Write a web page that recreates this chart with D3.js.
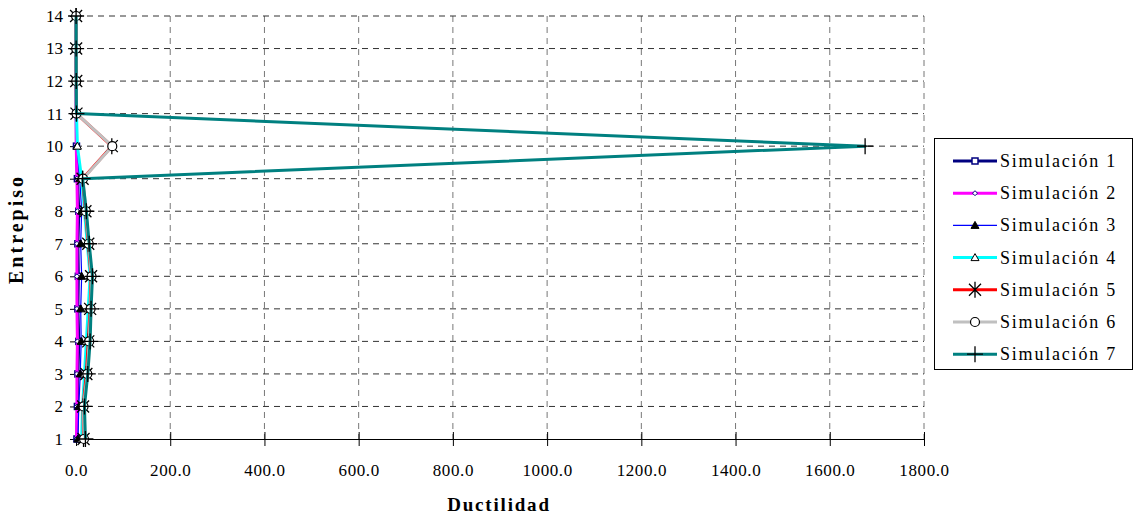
<!DOCTYPE html>
<html><head><meta charset="utf-8">
<script src="https://cdn.jsdelivr.net/npm/d3@7"></script>
<style>body{margin:0;background:#fff}svg{display:block}</style>
</head><body>
<svg id="c" width="1134" height="515"></svg>
<script>
const floors = [1,2,3,4,5,6,7,8,9,10,11,12,13,14];
const seriesNames = ["Simulación 1","Simulación 2","Simulación 3","Simulación 4","Simulación 5","Simulación 6","Simulación 7"];
const sim1 = [2,3,4,6,4,5,4,6,3,1,0.5,0.3,0.2,0.1];
const sim2 = [1,2,2,3,2,2,2,3,2,0.5,0.4,0.3,0.2,0.1];
const sim3 = [4,6,9,11,10,12,10,12,8,2,1,0.5,0.3,0.2];
const sim4 = [12,14,18,22,26,30,24,18,12,3,1,0.5,0.3,0.2];
const sim5 = [16,15,22,26,30,32,26,20,14,76,1,0.5,0.3,0.2];
const sim6 = [17,16,24,28,31,33,27,21,15,77,1,0.5,0.3,0.2];
const sim7 = [20,18,25,30,32,35,28,22,14,1675,1,0.5,0.3,0.2];
const xTicks = [0,200,400,600,800,1000,1200,1400,1600,1800];
const yTicks = [1,2,3,4,5,6,7,8,9,10,11,12,13,14];
const xTitle = "Ductilidad", yTitle = "Entrepiso";

const FONT = "Liberation Serif";
const allSeries = [sim1,sim2,sim3,sim4,sim5,sim6,sim7];
const colors = ["#000080","#FF00FF","#0000FF","#00FFFF","#FF0000","#C0C0C0","#008080"];
const widths = [3,3,1.2,3,3,3,3];
const markers = ["square","diamond","triFill","triOpen","star","circle","plus"];

const svg = d3.select("#c");
const x = d3.scaleLinear().domain([0,1800]).range([76,924]);
const y = d3.scaleLinear().domain([1,14]).range([439,16]);

// grid
svg.append("g").selectAll("line").data(xTicks.slice(1)).join("line")
  .attr("x1",d=>x(d)).attr("x2",d=>x(d)).attr("y1",y(14)).attr("y2",y(1))
  .attr("stroke","#777").attr("stroke-width",1).attr("stroke-dasharray","6,5");
svg.append("g").selectAll("line").data(yTicks.slice(1)).join("line")
  .attr("x1",x(0)).attr("x2",x(1800)).attr("y1",d=>y(d)).attr("y2",d=>y(d))
  .attr("stroke","#333").attr("stroke-width",1).attr("stroke-dasharray","6,5");

// axes
const xAxis = svg.append("g").attr("transform",`translate(0,${y(1)})`)
  .call(d3.axisBottom(x).tickValues(xTicks).tickFormat(d3.format(".1f")).tickSizeInner(7).tickSizeOuter(0));
xAxis.attr("font-family",FONT).attr("font-size",17);
xAxis.selectAll(".tick line").attr("y1",-7).attr("y2",7);
xAxis.selectAll("text").attr("dy",0).attr("y",37).attr("font-family",FONT).attr("font-size",17).attr("letter-spacing","0.6px");
const yAxis = svg.append("g").attr("transform",`translate(${x(0)},0)`)
  .call(d3.axisLeft(y).tickValues(yTicks).tickFormat(d3.format("d")).tickSizeInner(6).tickSizeOuter(0));
yAxis.attr("font-family",FONT).attr("font-size",17);
yAxis.selectAll("text").attr("x",-13).attr("font-family",FONT).attr("font-size",17);
svg.selectAll(".domain").attr("stroke","#000");
svg.selectAll(".tick line").attr("stroke","#000");

// lines
const line = d3.line().x(d=>x(d[0])).y(d=>y(d[1]));
function drawMarker(g, type, cx, cy){
  if(type==="square") g.append("rect").attr("x",cx-3).attr("y",cy-3).attr("width",6).attr("height",6).attr("fill","#fff").attr("stroke","#000080").attr("stroke-width",1.5);
  else if(type==="diamond") g.append("path").attr("d",`M${cx},${cy-2.5}L${cx+2.5},${cy}L${cx},${cy+2.5}L${cx-2.5},${cy}Z`).attr("fill","#fff").attr("stroke","#000080").attr("stroke-width",1);
  else if(type==="triFill") g.append("path").attr("d",`M${cx},${cy-4}L${cx+4},${cy+3}L${cx-4},${cy+3}Z`).attr("fill","#000").attr("stroke","#000");
  else if(type==="triOpen") g.append("path").attr("d",`M${cx},${cy-4}L${cx+4},${cy+3}L${cx-4},${cy+3}Z`).attr("fill","#fff").attr("stroke","#000").attr("stroke-width",1);
  else if(type==="star"){ const r=8; g.append("path").attr("d",`M${cx},${cy-r}L${cx},${cy+r}M${cx-r*0.75},${cy-r*0.75}L${cx+r*0.75},${cy+r*0.75}M${cx-r*0.75},${cy+r*0.75}L${cx+r*0.75},${cy-r*0.75}`).attr("stroke","#000").attr("stroke-width",1.3).attr("fill","none"); }
  else if(type==="circle") g.append("circle").attr("cx",cx).attr("cy",cy).attr("r",4.5).attr("fill","#fff").attr("stroke","#000").attr("stroke-width",1.2);
  else if(type==="plus"){ const r=8; g.append("path").attr("d",`M${cx-r},${cy}L${cx+r},${cy}M${cx},${cy-r}L${cx},${cy+r}`).attr("stroke","#000").attr("stroke-width",1.3); }
}
allSeries.forEach((vals,i)=>{
  const g = svg.append("g");
  const pts = vals.map((v,j)=>[v,floors[j]]);
  g.append("path").attr("d",line(pts)).attr("fill","none").attr("stroke",colors[i]).attr("stroke-width",widths[i]).attr("stroke-linejoin","round");
  pts.forEach(p=>drawMarker(g,markers[i],x(p[0]),y(p[1])));
});

// titles
svg.append("text").attr("x",499).attr("y",511).attr("text-anchor","middle").attr("font-family",FONT).attr("font-size",19).attr("font-weight","bold").attr("letter-spacing","1.8px").text(xTitle);
svg.append("text").attr("transform","translate(23,229) rotate(-90)").attr("text-anchor","middle").attr("font-family",FONT).attr("font-size",20).attr("font-weight","bold").attr("letter-spacing","3px").text(yTitle);

// legend
const lg = svg.append("g");
lg.append("rect").attr("x",934.5).attr("y",138.5).attr("width",198).attr("height",231).attr("fill","#fff").attr("stroke","#000").attr("stroke-width",1);
seriesNames.forEach((n,i)=>{
  const cy = 161 + i*32.2;
  lg.append("line").attr("x1",953).attr("x2",997).attr("y1",cy).attr("y2",cy).attr("stroke",colors[i]).attr("stroke-width",widths[i]);
  drawMarker(lg,markers[i],975,cy);
  lg.append("text").attr("x",1000).attr("y",cy+6).attr("font-family",FONT).attr("font-size",18).attr("letter-spacing","1.8px").text(n);
});
</script>
</body></html>
